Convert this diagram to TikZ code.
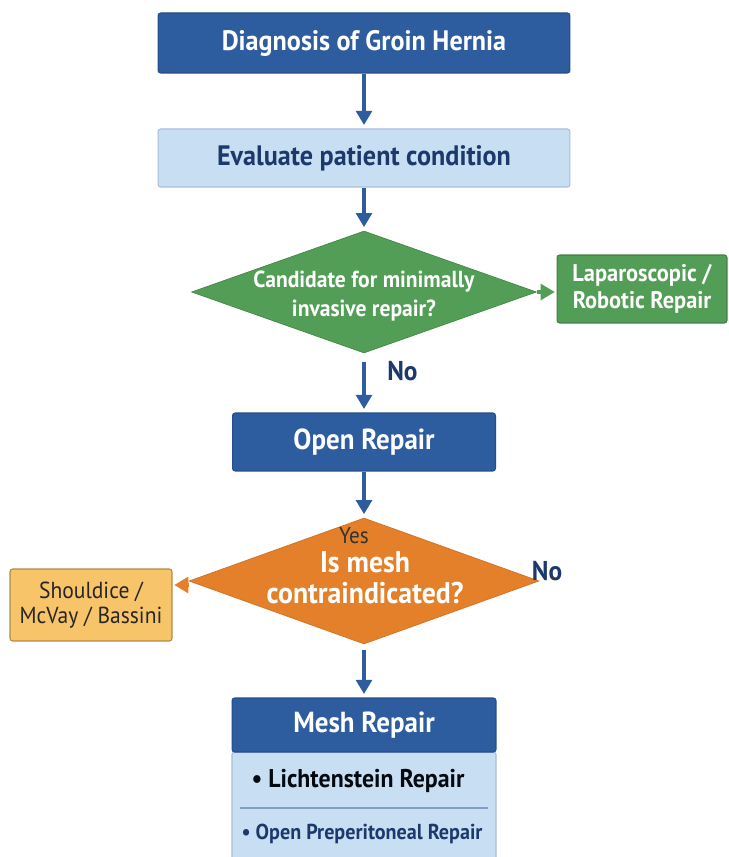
\documentclass[tikz,border=0pt]{standalone}
\usepackage{fontspec}
\setmainfont{PT Sans}[FakeStretch=0.93]
\usetikzlibrary{arrows.meta,shapes.geometric,positioning}
\definecolor{hdrblue}{HTML}{2D5C9F}
\definecolor{paleblue}{HTML}{C8DEF2}
\definecolor{navy}{HTML}{1B3A6B}
\definecolor{leafgreen}{HTML}{539E57}
\definecolor{deeporange}{HTML}{E5802A}
\definecolor{paleorange}{HTML}{F8C46A}
\tikzset{
  darkbox/.style={draw=hdrblue!85!black, fill=hdrblue, text=white, rounded corners=1.5pt, line width=0.6pt},
  lightbox/.style={draw=hdrblue!40, fill=paleblue, text=navy, rounded corners=1.5pt, line width=0.6pt},
  decision/.style={diamond, inner sep=0pt},
  flow/.style={draw=hdrblue, line width=1.8pt, -{Triangle[width=9pt,length=8pt]}},
  bigtext/.style={font=\bfseries\fontsize{16}{19}\selectfont},
  headtext/.style={font=\bfseries\fontsize{16.5}{19}\selectfont},
  answer/.style={text=navy, font=\bfseries\fontsize{15.5}{18}\selectfont}
}
\begin{document}
\begin{tikzpicture}[x=0.02cm,y=-0.02cm]
  \useasboundingbox (0,0) rectangle (728,857);
  \clip (0,0) rectangle (728,857);
  \fill[white] (0,0) rectangle (728,857);
  % main column
  \node[darkbox, bigtext, minimum width=8.24cm, minimum height=1.2cm] (diag) at (364,43) {Diagnosis of Groin Hernia};
  \node[lightbox, bigtext, minimum width=8.24cm, minimum height=1.16cm] (eval) at (364,158) {Evaluate patient condition};
  \node[decision, fill=leafgreen, draw=leafgreen!85!black, minimum width=6.9cm, minimum height=2.44cm] (cand) at (364,292) {};
  \node[text=white, align=center, font=\bfseries\fontsize{13.2}{16}\selectfont] (candtext) at (364,296) {Candidate for minimally\\invasive repair?};
  \node[darkbox, fill=leafgreen, draw=leafgreen!80!black, align=center, font=\bfseries\fontsize{13.7}{15}\selectfont,
        minimum width=3.4cm, minimum height=1.36cm] (lap) at (642,289) {Laparoscopic /\\Robotic Repair};
  \node[darkbox, headtext, minimum width=5.26cm, minimum height=1.16cm] (open) at (364,442) {Open Repair};
  \node[decision, fill=deeporange, draw=deeporange!90!black, minimum width=7cm, minimum height=2.52cm] (mesh) at (364,581) {};
  \node[text=white, font=\bfseries\fontsize{17}{17.5}\selectfont, align=center] (meshtext) at (365,578) {Is mesh\\contraindicated?};
  \node[text=black!80, font=\fontsize{13}{15}\selectfont] (yes) at (354,536) {Yes};
  \node[answer] (no2) at (547,571) {No};
  \node[draw=paleorange!70!black, fill=paleorange, text=black!85, rounded corners=1.5pt, line width=0.6pt, align=center,
        font=\fontsize{13.2}{14.5}\selectfont, minimum width=3.24cm, minimum height=1.44cm] (shoul) at (91,605) {Shouldice /\\McVay / Bassini};
  % mesh repair box
  \draw[lightbox] (232,752) rectangle (496,880);
  \node[darkbox, headtext, minimum width=5.28cm, minimum height=1.08cm] (mhead) at (364,725) {Mesh Repair};
  \node[text=black!85!navy, font=\bfseries\fontsize{14.6}{17}\selectfont] (licht) at (358,781) {• Lichtenstein Repair};
  \draw[hdrblue!60, line width=1pt] (240,808) -- (488,808);
  \node[text=navy, font=\bfseries\fontsize{12.3}{14}\selectfont] (prep) at (362,834) {• Open Preperitoneal Repair};
  % arrows
  \draw[flow, shorten >=2pt] (diag) -- (eval);
  \draw[flow, shorten >=2pt] (eval) -- (cand);
  \draw[flow, draw=leafgreen, shorten >=1pt] (cand.east) -- (cand.east -| lap.west);
  \draw[flow, shorten <=5pt, shorten >=2pt] (cand.south) -- (open.north)
    node[answer, pos=0.3, right=9pt] (no1) {No};
  \draw[flow, shorten >=2pt] (open) -- (mesh.north);
  \draw[flow, draw=deeporange, shorten >=1pt] ([yshift=-0.08cm]mesh.west) -- ([yshift=-0.08cm]mesh.west -| shoul.east);
  \draw[flow, shorten <=3pt, shorten >=2pt] (mesh.south) -- (mhead.north);
\end{tikzpicture}
\end{document}
